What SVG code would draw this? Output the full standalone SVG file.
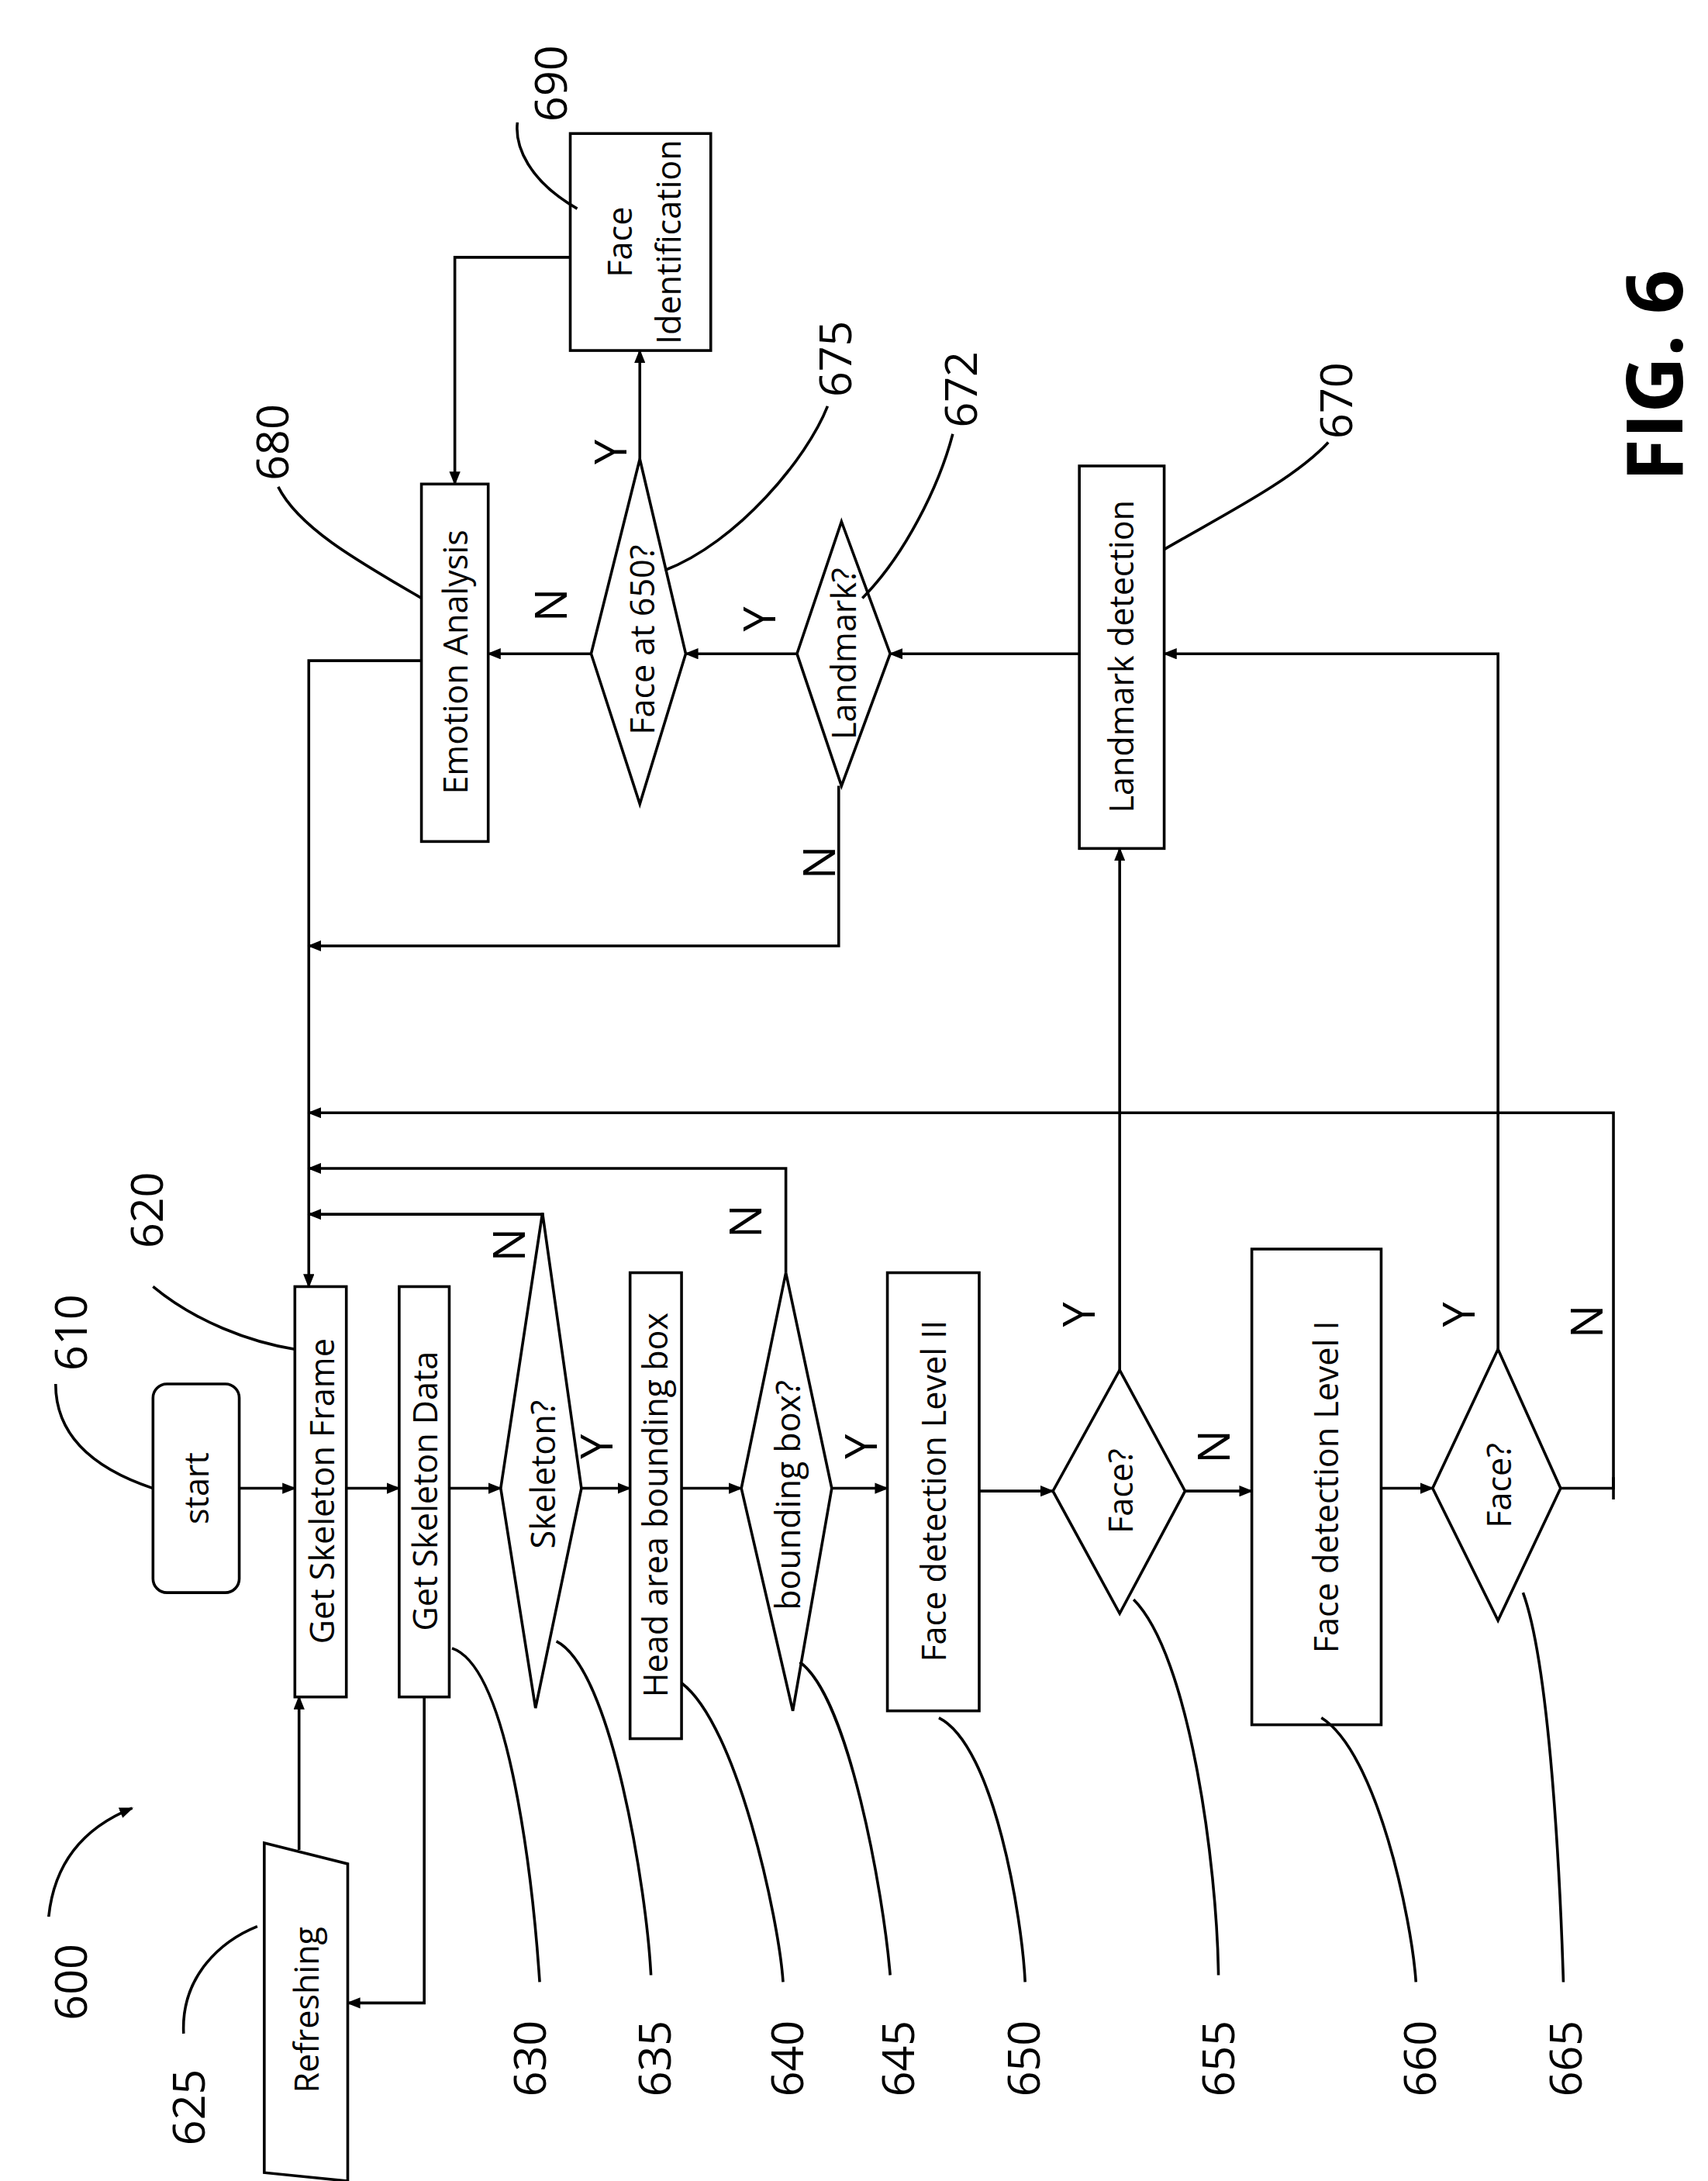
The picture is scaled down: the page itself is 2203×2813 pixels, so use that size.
<svg xmlns="http://www.w3.org/2000/svg" width="2203" height="2813" viewBox="0 0 2203 2813">
<defs>
<marker id="a" markerWidth="10" markerHeight="8" refX="9" refY="4" orient="auto" markerUnits="userSpaceOnUse"><path d="M0,0 L10,4 L0,8 z" fill="#000"/></marker>
<style>
.s{fill:#fff;stroke:#000;stroke-width:2}
.c{fill:none;stroke:#000;stroke-width:2}
.t{font-family:"Open Sans","Liberation Sans",sans-serif;font-size:24px;text-anchor:middle;dominant-baseline:central}
.n{font-family:"Open Sans","Liberation Sans",sans-serif;font-size:32px;text-anchor:middle;dominant-baseline:central}
.f{font-family:"Open Sans","Liberation Sans",sans-serif;font-size:56px;font-weight:bold;text-anchor:middle;dominant-baseline:central}
</style>
</defs>
<rect width="2203" height="2813" fill="#fff"/>
<g transform="scale(1.794)">
<g id="connectors">
<path class="c" marker-end="url(#a)" d="M172,1070H212"/>
<path class="c" marker-end="url(#a)" d="M249,1070H287"/>
<path class="c" marker-end="url(#a)" d="M323,1070H360"/>
<path class="c" marker-end="url(#a)" d="M418,1070H453"/>
<path class="c" marker-end="url(#a)" d="M490,1070H533"/>
<path class="c" marker-end="url(#a)" d="M598,1070H638"/>
<path class="c" marker-end="url(#a)" d="M704,1072H757"/>
<path class="c" marker-end="url(#a)" d="M852,1072H900"/>
<path class="c" marker-end="url(#a)" d="M993,1070H1030"/>
<path class="c" marker-end="url(#a)" d="M1122,1070H1160V800H222"/>
<path class="c" d="M1160,1062V1078"/>
<path class="c" marker-end="url(#a)" d="M303,475H222V925"/>
<path class="c" marker-end="url(#a)" d="M390,872V873H222"/>
<path class="c" marker-end="url(#a)" d="M565,915V840H222"/>
<path class="c" marker-end="url(#a)" d="M805,985V610"/>
<path class="c" marker-end="url(#a)" d="M1077,970V470H837"/>
<path class="c" marker-end="url(#a)" d="M776,470H640"/>
<path class="c" marker-end="url(#a)" d="M573,470H493"/>
<path class="c" marker-end="url(#a)" d="M425,470H351"/>
<path class="c" marker-end="url(#a)" d="M603,565V680H222"/>
<path class="c" marker-end="url(#a)" d="M460,330V252"/>
<path class="c" marker-end="url(#a)" d="M410,185H327V348"/>
<path class="c" marker-end="url(#a)" d="M305,1220V1440H250"/>
<path class="c" marker-end="url(#a)" d="M215,1330V1220"/>
</g>
<g id="n610"><rect class="s" x="110" y="995" width="62" height="150" rx="10"/><text class="t" x="141" y="1070" transform="rotate(-90 141 1070)">start</text></g>
<g id="n620"><rect class="s" x="212" y="925" width="37" height="295"/><text class="t" x="231" y="1072" transform="rotate(-90 231 1072)">Get Skeleton Frame</text></g>
<g id="n630"><rect class="s" x="287" y="925" width="36" height="295"/><text class="t" x="305" y="1072" transform="rotate(-90 305 1072)">Get Skeleton Data</text></g>
<g id="n635"><polygon class="s" points="390,872 418,1070 385,1228 360,1070"/><text class="t" x="390" y="1060" transform="rotate(-90 390 1060)">Skeleton?</text></g>
<g id="n640"><rect class="s" x="453" y="915" width="37" height="335"/><text class="t" x="471" y="1082" transform="rotate(-90 471 1082)">Head area bounding box</text></g>
<g id="n645"><polygon class="s" points="565,915 598,1070 570,1230 533,1070"/><text class="t" x="566" y="1075" transform="rotate(-90 566 1075)">bounding box?</text></g>
<g id="n650"><rect class="s" x="638" y="915" width="66" height="315"/><text class="t" x="671" y="1072" transform="rotate(-90 671 1072)">Face detection Level II</text></g>
<g id="n655"><polygon class="s" points="805,985 852,1072 805,1160 757,1072"/><text class="t" x="805" y="1072" transform="rotate(-90 805 1072)">Face?</text></g>
<g id="n660"><rect class="s" x="900" y="898" width="93" height="342"/><text class="t" x="953" y="1069" transform="rotate(-90 953 1069)">Face detection Level I</text></g>
<g id="n665"><polygon class="s" points="1077,970 1122,1070 1077,1165 1030,1070"/><text class="t" x="1077" y="1068" transform="rotate(-90 1077 1068)">Face?</text></g>
<g id="n625"><polygon class="s" points="190,1325 250,1340 250,1568 190,1562"/><text class="t" x="220" y="1445" transform="rotate(-90 220 1445)">Refreshing</text></g>
<g id="n670"><rect class="s" x="776" y="335" width="61" height="275"/><text class="t" x="806" y="472" transform="rotate(-90 806 472)">Landmark detection</text></g>
<g id="n672"><polygon class="s" points="605,375 640,470 605,565 573,470"/><text class="t" x="606" y="470" transform="rotate(-90 606 470)">Landmark?</text></g>
<g id="n675"><polygon class="s" points="460,330 493,470 460,578 425,470"/><text class="t" x="461" y="460" transform="rotate(-90 461 460)">Face at 650?</text></g>
<g id="n680"><rect class="s" x="303" y="348" width="48" height="257"/><text class="t" x="327" y="476" transform="rotate(-90 327 476)">Emotion Analysis</text></g>
<g id="n690"><rect class="s" x="410" y="96" width="101" height="156"/><text class="t" x="445" y="174" transform="rotate(-90 445 174)">Face</text><text class="t" x="480" y="174" transform="rotate(-90 480 174)">Identification</text></g>
<g id="labels">
<text class="n" x="428" y="1040" transform="rotate(-90 428 1040)">Y</text>
<text class="n" x="618" y="1040" transform="rotate(-90 618 1040)">Y</text>
<text class="n" x="872" y="1040" transform="rotate(-90 872 1040)">N</text>
<text class="n" x="1140" y="950" transform="rotate(-90 1140 950)">N</text>
<text class="n" x="365" y="895" transform="rotate(-90 365 895)">N</text>
<text class="n" x="535" y="878" transform="rotate(-90 535 878)">N</text>
<text class="n" x="775" y="945" transform="rotate(-90 775 945)">Y</text>
<text class="n" x="1048" y="945" transform="rotate(-90 1048 945)">Y</text>
<text class="n" x="545" y="445" transform="rotate(-90 545 445)">Y</text>
<text class="n" x="395" y="435" transform="rotate(-90 395 435)">N</text>
<text class="n" x="588" y="620" transform="rotate(-90 588 620)">N</text>
<text class="n" x="438" y="325" transform="rotate(-90 438 325)">Y</text>
<text class="n" x="50" y="1425" transform="rotate(-90 50 1425)">600</text>
<text class="n" x="50" y="958" transform="rotate(-90 50 958)">610</text>
<text class="n" x="105" y="870" transform="rotate(-90 105 870)">620</text>
<text class="n" x="135" y="1515" transform="rotate(-90 135 1515)">625</text>
<text class="n" x="380" y="1480" transform="rotate(-90 380 1480)">630</text>
<text class="n" x="470" y="1480" transform="rotate(-90 470 1480)">635</text>
<text class="n" x="565" y="1480" transform="rotate(-90 565 1480)">640</text>
<text class="n" x="645" y="1480" transform="rotate(-90 645 1480)">645</text>
<text class="n" x="735" y="1480" transform="rotate(-90 735 1480)">650</text>
<text class="n" x="875" y="1480" transform="rotate(-90 875 1480)">655</text>
<text class="n" x="1020" y="1480" transform="rotate(-90 1020 1480)">660</text>
<text class="n" x="1125" y="1480" transform="rotate(-90 1125 1480)">665</text>
<text class="n" x="960" y="288" transform="rotate(-90 960 288)">670</text>
<text class="n" x="690" y="280" transform="rotate(-90 690 280)">672</text>
<text class="n" x="600" y="258" transform="rotate(-90 600 258)">675</text>
<text class="n" x="195" y="318" transform="rotate(-90 195 318)">680</text>
<text class="n" x="395" y="60" transform="rotate(-90 395 60)">690</text>
<text class="f" x="1188" y="270" transform="rotate(-90 1188 270)">FIG. 6</text>
</g>
<g id="leaders" fill="none" stroke="#000" stroke-width="2">
<path marker-end="url(#a)" d="M35,1378 C40,1330 70,1310 95,1300"/>
<path d="M40,995 C40,1040 80,1060 110,1070"/>
<path d="M110,925 C140,950 180,965 212,970"/>
<path d="M132,1462 C130,1420 160,1395 185,1385"/>
<path d="M325,1185 C370,1200 385,1380 388,1425"/>
<path d="M400,1180 C440,1200 465,1360 468,1420"/>
<path d="M490,1210 C530,1240 560,1380 563,1425"/>
<path d="M575,1195 C610,1220 635,1360 640,1420"/>
<path d="M675,1235 C715,1255 735,1380 737,1425"/>
<path d="M815,1150 C855,1190 875,1340 876,1420"/>
<path d="M950,1235 C990,1260 1015,1380 1018,1425"/>
<path d="M1095,1145 C1115,1200 1122,1360 1124,1425"/>
<path d="M837,395 C880,370 930,345 955,318"/>
<path d="M620,430 C650,400 675,350 685,312"/>
<path d="M478,410 C530,390 580,330 595,292"/>
<path d="M303,430 C260,405 215,380 200,350"/>
<path d="M415,150 C380,130 370,105 372,88"/>
</g>
</g>
</svg>
